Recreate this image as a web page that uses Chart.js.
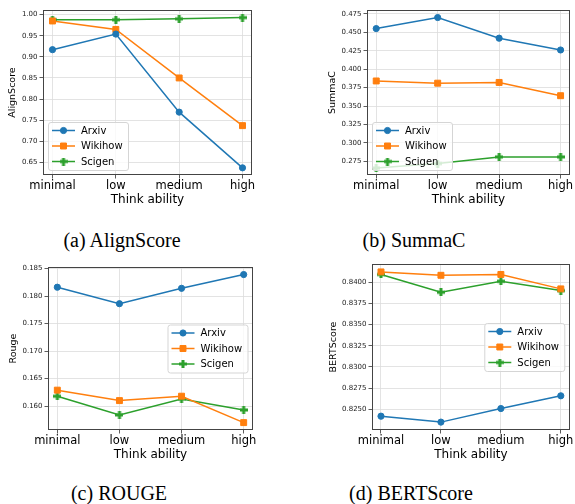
<!DOCTYPE html>
<html><head><meta charset="utf-8">
<script src="https://cdn.jsdelivr.net/npm/chart.js@4.4.1/dist/chart.umd.min.js"></script>
<style>
body{margin:0;background:#fff;width:575px;height:504px;overflow:hidden;position:relative;}
canvas{position:absolute;}
.cap{position:absolute;font-family:"Liberation Serif","Times New Roman",serif;font-size:20px;line-height:20px;white-space:nowrap;color:#000;transform:translateX(-50%);}
</style></head><body>
<div class="cap" style="left:122px;top:230px">(a) AlignScore</div>
<div class="cap" style="left:414px;top:230px">(b) SummaC</div>
<div class="cap" style="left:119px;top:483px">(c) ROUGE</div>
<div class="cap" style="left:411px;top:483px">(d) BERTScore</div>
<script>
const categories = ['minimal', 'low', 'medium', 'high'];
const seriesLabels = ['Arxiv', 'Wikihow', 'Scigen'];
const xAxisTitle = 'Think ability';

const alignArxiv   = [0.917, 0.954, 0.769, 0.637];
const alignWikihow = [0.985, 0.965, 0.850, 0.737];
const alignScigen  = [0.988, 0.988, 0.990, 0.993];
const alignTicks   = [0.65, 0.70, 0.75, 0.80, 0.85, 0.90, 0.95, 1.00];

const summacArxiv   = [0.455, 0.470, 0.442, 0.426];
const summacWikihow = [0.384, 0.381, 0.382, 0.364];
const summacScigen  = [0.266, 0.272, 0.281, 0.281];
const summacTicks   = [0.275, 0.300, 0.325, 0.350, 0.375, 0.400, 0.425, 0.450, 0.475];

const rougeArxiv   = [0.1816, 0.1786, 0.1814, 0.1839];
const rougeWikihow = [0.1629, 0.1610, 0.1618, 0.1570];
const rougeScigen  = [0.1618, 0.1584, 0.1613, 0.1593];
const rougeTicks   = [0.160, 0.165, 0.170, 0.175, 0.180, 0.185];

const bertArxiv   = [0.8242, 0.8235, 0.8251, 0.8266];
const bertWikihow = [0.8412, 0.8408, 0.8409, 0.8392];
const bertScigen  = [0.8409, 0.8388, 0.8401, 0.8390];
const bertTicks   = [0.8250, 0.8275, 0.8300, 0.8325, 0.8350, 0.8375, 0.8400];

const colors = ['#1f77b4', '#ff7f0e', '#2ca02c'];

// filled "plus" marker like matplotlib 'P'
function plusMarker(color) {
  const c = document.createElement('canvas');
  c.width = 8; c.height = 8;
  const g = c.getContext('2d');
  g.fillStyle = color;
  g.fillRect(2.5, 0, 3, 8);
  g.fillRect(0, 2.5, 8, 3);
  return c;
}
const markers = [
  {pointStyle: 'circle', pointRadius: 3.1, pointBorderWidth: 1},
  {pointStyle: 'rect', pointRadius: 4.2, pointBorderWidth: 1},
  {pointStyle: plusMarker(colors[2]), pointRadius: 4, pointBorderWidth: 0}
];

Chart.defaults.font.family = 'DejaVu Sans';
Chart.defaults.color = '#000';

const framePlugin = {
  id: 'frame',
  afterDatasetsDraw(chart) {
    const a = chart.chartArea, c = chart.ctx;
    c.save();
    c.strokeStyle = '#444';
    c.lineWidth = 1;
    c.strokeRect(Math.round(a.left) + 0.5, Math.round(a.top) + 0.5,
                 Math.round(a.right - a.left) - 1, Math.round(a.bottom - a.top) - 1);
    c.restore();
  }
};

const legendPlugin = {
  id: 'mplLegend',
  afterDraw(chart, args, opts) {
    const a = chart.chartArea, ctx = chart.ctx;
    const w = 80, h = 48;
    let x, y;
    if (opts.loc === 'lower left') { x = a.left + 5; y = a.bottom - 5 - h; }
    else { x = a.right - 5.5 - w; y = (a.top + a.bottom) / 2 - h / 2; }
    ctx.save();
    ctx.beginPath();
    ctx.roundRect(x + 0.5, y + 0.5, w, h, 2.5);
    ctx.fillStyle = 'rgba(255,255,255,0.8)';
    ctx.fill();
    ctx.strokeStyle = '#d5d5d5';
    ctx.lineWidth = 1;
    ctx.stroke();
    chart.data.datasets.forEach((ds, i) => {
      const cy = y + 8.5 + i * 15.5;
      ctx.beginPath();
      ctx.strokeStyle = ds.borderColor;
      ctx.lineWidth = 1.5;
      ctx.moveTo(x + 4, cy); ctx.lineTo(x + 27, cy);
      ctx.stroke();
      ctx.fillStyle = ds.pointBackgroundColor;
      ctx.strokeStyle = ds.pointBorderColor;
      ctx.lineWidth = ds.pointBorderWidth;
      Chart.helpers.drawPoint(ctx, {pointStyle: ds.pointStyle, radius: ds.pointRadius,
        borderWidth: ds.pointBorderWidth, rotation: 0}, x + 15.5, cy);
      ctx.fillStyle = '#000';
      ctx.font = '10px "DejaVu Sans"';
      ctx.textBaseline = 'middle';
      ctx.textAlign = 'left';
      ctx.fillText(ds.label, x + 33, cy + 0.5);
    });
    ctx.restore();
  }
};

function makePanel(p) {
  const yAxisW = 48, xAxisH = 40, topPad = 10;
  const cl = p.plot[0] - yAxisW;
  const ct = p.plot[1] - topPad;
  const cr = Math.min(575, p.plot[2] + 38);
  const cb = p.plot[3] + xAxisH;
  const cv = document.createElement('canvas');
  cv.width = cr - cl; cv.height = cb - ct;
  cv.style.left = cl + 'px'; cv.style.top = ct + 'px';
  document.body.appendChild(cv);
  const rightPad = cr - p.plot[2];
  const datasets = p.series.map((vals, i) => ({
    label: seriesLabels[i],
    data: vals.map((v, k) => ({x: k, y: v})),
    borderColor: colors[i],
    backgroundColor: colors[i],
    pointBackgroundColor: colors[i],
    pointBorderColor: colors[i],
    borderWidth: 1.5,
    tension: 0,
    ...markers[i]
  }));
  new Chart(cv, {
    type: 'line',
    data: {datasets},
    options: {
      responsive: false, animation: false, devicePixelRatio: 1, events: [],
      layout: {padding: {left: 0, top: topPad, right: rightPad, bottom: 0}},
      plugins: {legend: {display: false}, tooltip: {enabled: false}, mplLegend: {loc: p.loc}},
      scales: {
        x: {
          type: 'linear', min: -0.15, max: 3.15,
          afterBuildTicks: s => { s.ticks = categories.map((c, i) => ({value: i})); },
          afterFit: s => { s.height = xAxisH; s.paddingLeft = 0; s.paddingRight = 0; },
          ticks: {autoSkip: false, maxRotation: 0, minRotation: 0, padding: 1,
                  font: {size: 11.5}, color: '#000', callback: v => categories[v]},
          grid: {color: '#dcdcdc', lineWidth: 0.8, borderDash: [3, 2], drawTicks: true,
                 tickLength: 3.5, tickColor: '#333', tickWidth: 0.8, tickBorderDash: []},
          border: {display: false},
          title: {display: true, text: xAxisTitle, font: {size: 12}, color: '#000',
                  padding: {top: 0, bottom: 7.8}}
        },
        y: {
          type: 'linear', min: p.yMin, max: p.yMax,
          afterBuildTicks: s => { s.ticks = p.ticks.map(v => ({value: v})); },
          afterFit: s => { s.width = yAxisW; s.paddingTop = 0; s.paddingBottom = 0; },
          ticks: {padding: 2, font: {size: 7}, color: '#222',
                  callback: v => Number(v).toFixed(p.dec)},
          grid: {color: '#dcdcdc', lineWidth: 0.8, borderDash: [3, 2], drawTicks: true,
                 tickLength: 3.5, tickColor: '#333', tickWidth: 0.8, tickBorderDash: []},
          border: {display: false},
          title: {display: true, text: p.yTitle, font: {size: 9.5}, color: '#000',
                  padding: {top: (yAxisW - p.ylabOff) - 5.7, bottom: 0}}
        }
      }
    },
    plugins: [framePlugin, legendPlugin]
  });
}

makePanel({plot: [43, 10, 252, 175], yTitle: 'AlignScore', ylabOff: 30,
  series: [alignArxiv, alignWikihow, alignScigen], yMin: 0.620, yMax: 1.011,
  ticks: alignTicks, dec: 2, loc: 'lower left'});
makePanel({plot: [367, 10, 573, 175], yTitle: 'SummaC', ylabOff: 34,
  series: [summacArxiv, summacWikihow, summacScigen], yMin: 0.2565, yMax: 0.4802,
  ticks: summacTicks, dec: 3, loc: 'lower left'});
makePanel({plot: [48, 267, 253, 430], yTitle: 'Rouge', ylabOff: 34.7,
  series: [rougeArxiv, rougeWikihow, rougeScigen], yMin: 0.15566, yMax: 0.18527,
  ticks: rougeTicks, dec: 3, loc: 'center right'});
makePanel({plot: [372, 264, 573, 430], yTitle: 'BERTScore', ylabOff: 38,
  series: [bertArxiv, bertWikihow, bertScigen], yMin: 0.82257, yMax: 0.84213,
  ticks: bertTicks, dec: 4, loc: 'center right'});
</script>
</body></html>
